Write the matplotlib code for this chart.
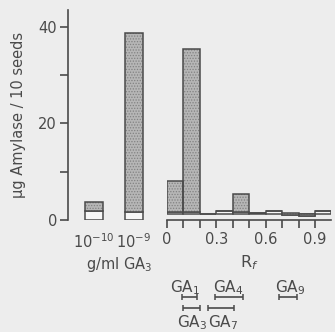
import matplotlib

matplotlib.use("Agg")
import matplotlib.pyplot as plt
import numpy as np

# left panel: GA3 standards
std_labels = ["10$^{-10}$", "10$^{-9}$"]
std_blank = [1.8, 1.6]
std_total = [3.7, 38.8]

# right panel: Rf fractions (0.1 wide)
rf_edges = [0.0, 0.1, 0.2, 0.3, 0.4, 0.5, 0.6, 0.7, 0.8, 0.9]
rf_base = 1.2
rf_blank = [1.7, 1.7, 1.2, 1.8, 1.7, 1.5, 1.9, 1.0, 0.9, 1.9]
rf_total = [8.1, 35.4, 1.2, 1.8, 5.4, 1.5, 1.9, 1.4, 1.2, 1.9]

# reference gibberellin Rf ranges
ga_names = ["GA$_1$", "GA$_4$", "GA$_9$", "GA$_3$", "GA$_7$"]
ga_lo = [0.09, 0.29, 0.68, 0.10, 0.25]
ga_hi = [0.18, 0.46, 0.79, 0.20, 0.41]
ga_row = [0, 0, 0, 1, 1]

INK = "#4a4a4a"
SHADE = "#b6b6b6"
DOTS = "#828282"
BLANK = "#f7f7f7"
BG = "#ededed"

plt.rcParams["font.family"] = ["DejaVu Sans"]
plt.rcParams["text.color"] = INK
plt.rcParams["hatch.linewidth"] = 0.6

W, H = 335, 332
fig = plt.figure(figsize=(W / 100, H / 100), dpi=100, facecolor=BG)


def rect(x0, y_top, x1, y_bot):
    return [x0 / W, 1 - y_bot / H, (x1 - x0) / W, (y_bot - y_top) / H]


def stippled(ax, x, h, bottom, **kw):
    # grey fill with fine dots, then a dark outline on top
    ax.bar(x, h, bottom=bottom, color=SHADE, edgecolor=DOTS, linewidth=0, hatch="......", **kw)
    ax.bar(x, h, bottom=bottom, fill=False, edgecolor=INK, linewidth=1.1, **kw)


YMAX = 43.5
ax_l = fig.add_axes(rect(68, 10, 160, 220))
ax_r = fig.add_axes(rect(167, 10, 331.4, 220))
ax_g = fig.add_axes(rect(167, 278, 331.4, 332))

for ax in (ax_l, ax_r, ax_g):
    ax.set_facecolor("none")
    for s in ax.spines.values():
        s.set_visible(False)
    ax.set_ylim(0, YMAX)

# left panel
xs = np.arange(len(std_labels))
ax_l.bar(xs, std_blank, width=0.45, color=BLANK, edgecolor=INK, linewidth=1.1)
stippled(ax_l, xs, np.array(std_total) - np.array(std_blank), std_blank, width=0.45)
ax_l.set_xlim(-0.6375, 1.6625)
ax_l.spines["left"].set_visible(True)
ax_l.spines["left"].set_color(INK)
ax_l.spines["left"].set_linewidth(1.2)
ax_l.set_yticks([0, 20, 40])
ax_l.set_yticks([10, 30], minor=True)
ax_l.tick_params(axis="y", which="both", direction="out", length=6, width=1.2,
                 color=INK, labelcolor=INK, labelsize=10.5, pad=2)
ax_l.set_xticks(xs, std_labels)
ax_l.tick_params(axis="x", length=0, pad=9, labelsize=10.5, labelcolor=INK)
fig.text(119 / W, 1 - 265 / H, "g/ml GA$_3$", ha="center", va="center", fontsize=10.5)
fig.text(19 / W, 1 - 115 / H, "μg Amylase / 10 seeds", rotation=90,
         ha="center", va="center", fontsize=10.5)

# right panel
blank_h = np.array(rf_blank) - rf_base
shade_h = np.array(rf_total) - np.array(rf_blank)
ax_r.bar(rf_edges, blank_h, bottom=rf_base, width=0.1, align="edge",
         color=BLANK, edgecolor=INK, linewidth=1.1)
stippled(ax_r, rf_edges, shade_h, rf_blank, width=0.1, align="edge")
ax_r.set_xlim(0, 1.0)
ax_r.spines["bottom"].set_visible(True)
ax_r.spines["bottom"].set_color(INK)
ax_r.spines["bottom"].set_linewidth(1.2)
ax_r.set_yticks([])
ax_r.set_xticks([0, 0.3, 0.6, 0.9], ["0", "0.3", "0.6", "0.9"])
ax_r.set_xticks(rf_edges, minor=True)
ax_r.tick_params(axis="x", which="both", direction="out", length=6, width=1.2,
                 color=INK, labelcolor=INK, labelsize=10.5, pad=3)
ax_r.set_xlabel("R$_f$", fontsize=11.5, labelpad=4, color=INK)

# GA reference ranges
label_dx = [-0.025, 0.0, 0.015, 0.0, 0.01]  # nudges so labels sit as in the print
ax_g.set_xlim(0, 1.0)
ax_g.set_ylim(4, 0)
ax_g.set_xticks([])
ax_g.set_yticks([])
for name, lo, hi, row, dx in zip(ga_names, ga_lo, ga_hi, ga_row, label_dx):
    yb = 1.4 + 0.8 * row
    mid = (lo + hi) / 2
    ax_g.errorbar([mid], [yb], xerr=[[(hi - lo) / 2], [(hi - lo) / 2]],
                  fmt="none", ecolor=INK, elinewidth=1.2, capsize=2.5, capthick=1.1)
    yt = 0.7 if row == 0 else 3.3
    ax_g.text(mid + dx, yt, name, ha="center", va="center", fontsize=11, color=INK)

fig.savefig("out.png", dpi=100, facecolor=BG)
